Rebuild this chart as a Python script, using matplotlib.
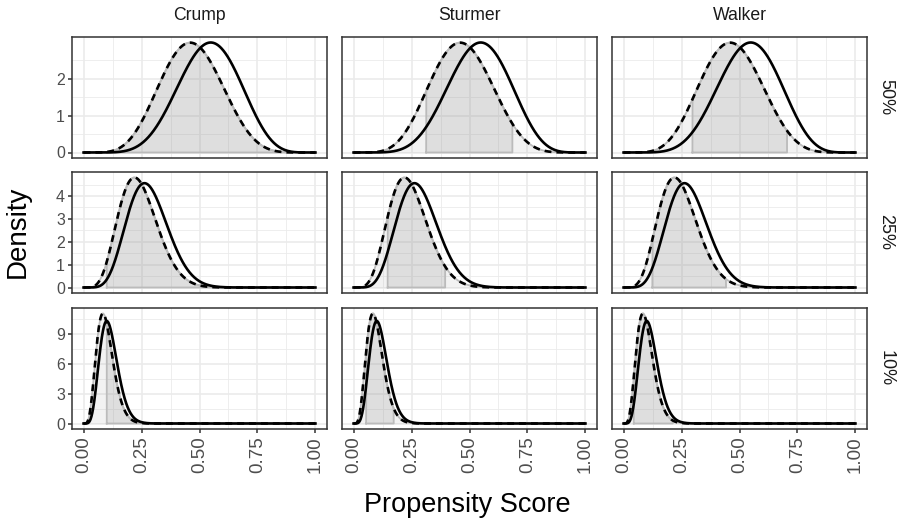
import math
import numpy as np
import matplotlib
matplotlib.use("Agg")
import matplotlib.pyplot as plt

plt.rcParams['font.family'] = ['Liberation Sans', 'DejaVu Sans']

methods = ["Crump", "Sturmer", "Walker"]
prevalence = ["50%", "25%", "10%"]

# beta shape parameters, one entry per prevalence row
solid_a = [7.8, 7.3, 7.0]
solid_b = [6.6, 18.7, 55.0]
dashed_a = [6.7, 6.2, 5.9]
dashed_b = [7.7, 19.5, 55.0]

# trimming bounds (rows = prevalence, cols = method)
lower = [[0.10, 0.313, 0.297],
         [0.10, 0.147, 0.124],
         [0.10, 0.054, 0.044]]
upper = [[0.90, 0.685, 0.705],
         [0.90, 0.395, 0.442],
         [0.90, 0.173, 0.212]]

y_ticks = [[0, 1, 2], [0, 1, 2, 3, 4], [0, 3, 6, 9]]
x_ticks = [0, 0.25, 0.5, 0.75, 1.0]
x_labels = ["0.00", "0.25", "0.50", "0.75", "1.00"]


def beta_pdf(x, a, b):
    lb = math.lgamma(a) + math.lgamma(b) - math.lgamma(a + b)
    out = np.zeros_like(x)
    inside = (x > 0) & (x < 1)
    xi = x[inside]
    out[inside] = np.exp((a - 1) * np.log(xi) + (b - 1) * np.log(1 - xi) - lb)
    return out


W, H = 902, 523
fig = plt.figure(figsize=(W / 100, H / 100), dpi=100)

col_left = [72, 342, 612]
row_top = [37, 172, 308]
pw, ph = 255, 121

xs = np.linspace(0, 1, 801)
border = '#333333'
grid_c = '#EBEBEB'
fill_c = '#999999'

for r in range(3):
    ys = beta_pdf(xs, solid_a[r], solid_b[r])
    yd = beta_pdf(xs, dashed_a[r], dashed_b[r])
    ymax = max(ys.max(), yd.max())
    for c in range(3):
        ax = fig.add_axes([col_left[c] / W, (H - row_top[r] - ph) / H, pw / W, ph / H])
        ax.set_xlim(-0.05, 1.05)
        ax.set_ylim(-0.05 * ymax, 1.05 * ymax)
        ax.set_facecolor('white')

        # grid
        for gx in [0.125, 0.375, 0.625, 0.875]:
            ax.axvline(gx, color=grid_c, lw=0.6, zorder=0)
        for gx in x_ticks:
            ax.axvline(gx, color=grid_c, lw=1.2, zorder=0)
        yt = y_ticks[r]
        step = yt[1] - yt[0]
        for gy in np.arange(step / 2, 1.05 * ymax, step):
            ax.axhline(gy, color=grid_c, lw=0.6, zorder=0)
        for gy in yt:
            ax.axhline(gy, color=grid_c, lw=1.2, zorder=0)

        # light area under dashed curve
        ax.fill_between(xs, 0, yd, color=fill_c, alpha=0.12, lw=0, zorder=1)
        ax.plot(xs, yd, color='#BBBBBB', lw=1.3, zorder=2)
        # trimmed region
        lo, hi = lower[r][c], upper[r][c]
        m = (xs >= lo) & (xs <= hi)
        ax.fill_between(xs[m], 0, yd[m], color=fill_c, alpha=0.22, lw=0, zorder=2)
        px = np.concatenate([[lo], xs[m], [hi], [lo]])
        py = np.concatenate([[0], yd[m], [0], [0]])
        ax.plot(px, py, color='#BBBBBB', lw=1.3, zorder=2)

        ax.plot(xs, ys, color='black', lw=1.9, zorder=3)
        ax.plot(xs, yd, color='black', lw=1.9, dashes=(2.6, 1.9), zorder=4)

        for s in ax.spines.values():
            s.set_color(border)
            s.set_linewidth(1.1)
        ax.tick_params(colors=border, length=3, width=1.1)
        ax.set_yticks(yt)
        if c == 0:
            ax.set_yticklabels([str(v) for v in yt], fontsize=11.5, color='#4D4D4D')
        else:
            ax.set_yticklabels([])
            ax.tick_params(axis='y', length=0)
        ax.set_xticks(x_ticks)
        if r == 2:
            ax.set_xticklabels(x_labels, rotation=90, fontsize=13.5, color='#4D4D4D')
        else:
            ax.set_xticklabels([])
            ax.tick_params(axis='x', length=0)
        ax.tick_params(axis='x', pad=2)
        ax.tick_params(axis='y', pad=2)

        if r == 0:
            fig.text((col_left[c] + pw / 2) / W, 1 - 15 / H, methods[c], ha='center',
                     va='center', fontsize=12.7, color='#1A1A1A')
        if c == 2:
            fig.text(886 / W, 1 - (row_top[r] + ph / 2) / H, prevalence[r], ha='center',
                     va='center', rotation=-90, fontsize=13, color='#1A1A1A')

fig.text(18 / W, 1 - 232 / H, "Density", rotation=90, ha='center', va='center', fontsize=20)
fig.text(467 / W, 1 - 505 / H, "Propensity Score", ha='center', va='center', fontsize=19.5)

fig.savefig("out.png", dpi=100)
